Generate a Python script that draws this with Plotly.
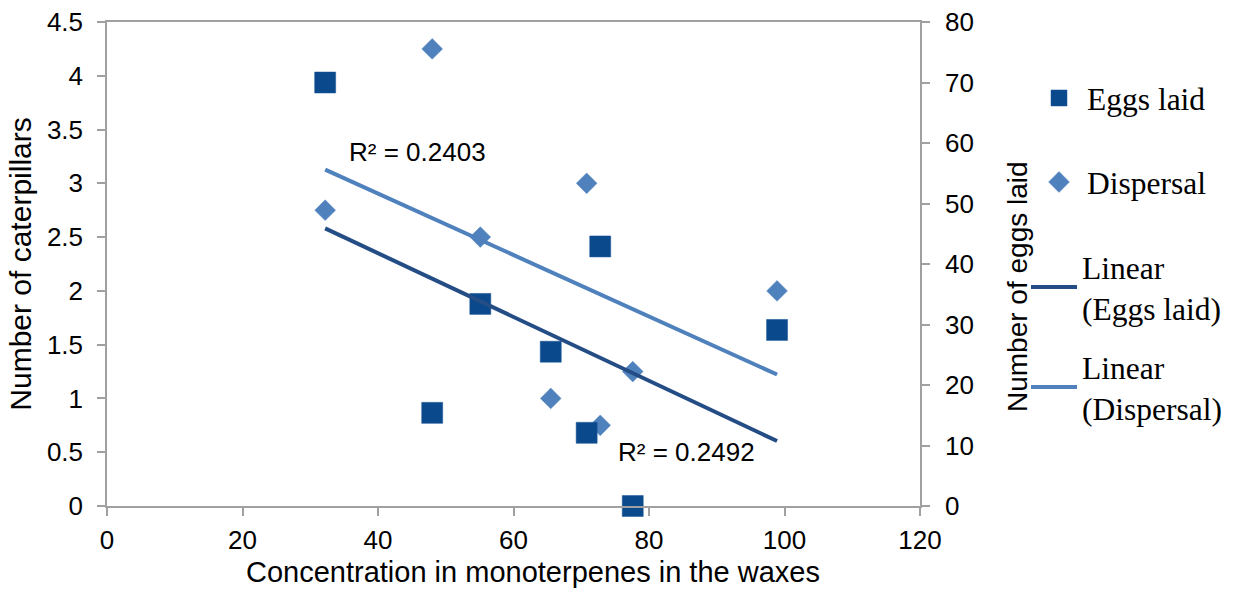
import numpy as np
import plotly.graph_objects as go

# Monoterpene concentration in the waxes for each plant
concentration = [32.2, 48.0, 55.1, 65.5, 70.8, 72.8, 77.6, 98.9]
# Number of caterpillars dispersing (left axis)
dispersal = [2.75, 4.25, 2.5, 1.0, 3.0, 0.75, 1.25, 2.0]
# Number of eggs laid (right axis)
eggs_laid = [70.0, 15.4, 33.4, 25.5, 12.1, 42.9, 0.0, 29.1]

r2_labels = ["R² = 0.2403", "R² = 0.2492"]

x_ticks = [0, 20, 40, 60, 80, 100, 120]
left_ticks = [0, 0.5, 1, 1.5, 2, 2.5, 3, 3.5, 4, 4.5]
right_ticks = [0, 10, 20, 30, 40, 50, 60, 70, 80]

DARK = "#0a4a8c"
LIGHT = "#4f81bd"
DARK_LINE = "#254d85"
AXIS = "#a0a0a0"
SANS = "Liberation Sans, Arial, sans-serif"
SERIF = "Liberation Serif, Times New Roman, serif"


def linear_fit(x, y):
    x = np.asarray(x, float)
    y = np.asarray(y, float)
    slope, intercept = np.polyfit(x, y, 1)
    xs = np.array([x.min(), x.max()])
    return xs, slope * xs + intercept


fit_eggs_x, fit_eggs_y = linear_fit(concentration, eggs_laid)
fit_disp_x, fit_disp_y = linear_fit(concentration, dispersal)

fig = go.Figure()

# markers first, trend lines drawn over them
fig.add_trace(go.Scatter(
    x=concentration, y=eggs_laid, mode="markers", yaxis="y2",
    name="Eggs laid", legend="legend", cliponaxis=False,
    marker=dict(symbol="square", size=21, color=DARK,
                line=dict(color="#1a5596", width=0.5)),
))
fig.add_trace(go.Scatter(
    x=concentration, y=dispersal, mode="markers",
    name="Dispersal", legend="legend2", cliponaxis=False,
    marker=dict(symbol="diamond", size=16, color=LIGHT,
                line=dict(color="#5a8ac4", width=0.5)),
))
fig.add_trace(go.Scatter(
    x=fit_eggs_x, y=fit_eggs_y, mode="lines", yaxis="y2",
    name="Linear<br>(Eggs laid)", legend="legend3",
    line=dict(color=DARK_LINE, width=4),
))
fig.add_trace(go.Scatter(
    x=fit_disp_x, y=fit_disp_y, mode="lines",
    name="Linear<br>(Dispersal)", legend="legend4",
    line=dict(color=LIGHT, width=4),
))

fig.add_annotation(x=45.8, y=3.29, text=r2_labels[0], showarrow=False,
                   font=dict(family=SANS, size=26, color="black"))
fig.add_annotation(x=85.5, y=0.50, text=r2_labels[1], showarrow=False,
                   font=dict(family=SANS, size=26, color="black"))

legend_font = dict(family=SERIF, size=31.5, color="black")
legend_common = dict(font=legend_font, xanchor="left", yanchor="middle",
                     bgcolor="rgba(0,0,0,0)", borderwidth=0, itemwidth=46)

plot_left, plot_right, plot_top, plot_bottom = 107, 920, 22, 506


def px_to_paper(px, py):
    return ((px - plot_left) / (plot_right - plot_left),
            (plot_bottom - py) / (plot_bottom - plot_top))


legend_positions = {
    "legend": (1031, 98),
    "legend2": (1031, 182),
    "legend3": (1026, 287),
    "legend4": (1026, 387),
}
legend_layout = {}
for key, (px, py) in legend_positions.items():
    lx, ly = px_to_paper(px, py)
    legend_layout[key] = dict(x=lx, y=ly, **legend_common)

tick_font = dict(family=SANS, size=26, color="black")
title_font = dict(family=SANS, size=30, color="black")

# x-axis title, centred on the chart area
xt_x, xt_y = px_to_paper(533, 572)
fig.add_annotation(x=xt_x, y=xt_y, xref="paper", yref="paper",
                   xanchor="center", yanchor="middle",
                   text="Concentration in monoterpenes in the waxes",
                   showarrow=False, font=dict(family=SANS, size=29, color="black"))

# right-hand axis title, set a little below the axis centre
rt_x, rt_y = px_to_paper(1017, 287)
fig.add_annotation(x=rt_x, y=rt_y, xref="paper", yref="paper",
                   xanchor="center", yanchor="middle",
                   text="Number of eggs laid", textangle=-90, showarrow=False,
                   font=dict(family=SANS, size=28, color="black"))

fig.update_layout(
    width=1249, height=592,
    margin=dict(l=plot_left, r=1249 - plot_right, t=plot_top, b=592 - plot_bottom),
    paper_bgcolor="white", plot_bgcolor="white",
    showlegend=True,
    xaxis=dict(
        range=[0, 120], tickvals=x_ticks, showgrid=False, zeroline=False,
        showline=True, linecolor=AXIS, linewidth=1.5, mirror=True,
        ticks="outside", ticklen=8, tickcolor=AXIS, tickwidth=1.5,
        tickfont=tick_font, ticklabelstandoff=2, automargin=False,
    ),
    yaxis=dict(
        range=[0, 4.5], tickvals=left_ticks, showgrid=False, zeroline=False,
        showline=True, linecolor=AXIS, linewidth=1.5,
        ticks="outside", ticklen=8, tickcolor=AXIS, tickwidth=1.5,
        tickfont=tick_font, ticklabelstandoff=9, automargin=False,
        title=dict(text="Number of caterpillars", font=title_font, standoff=6),
    ),
    yaxis2=dict(
        range=[0, 80], tickvals=right_ticks, overlaying="y", side="right",
        showgrid=False, zeroline=False,
        showline=True, linecolor=AXIS, linewidth=1.5,
        ticks="outside", ticklen=8, tickcolor=AXIS, tickwidth=1.5,
        tickfont=tick_font, ticklabelstandoff=10, automargin=False,
    ),
    **legend_layout,
)

fig.write_html("out.html")
